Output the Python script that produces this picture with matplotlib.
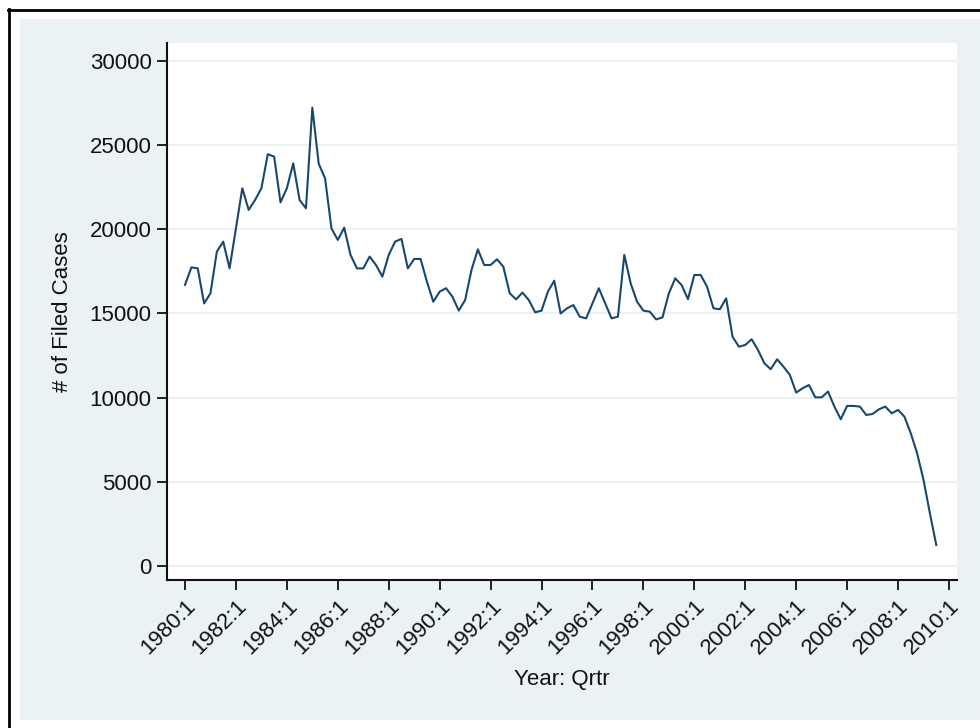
import numpy as np
import matplotlib
matplotlib.use("Agg")
import matplotlib.pyplot as plt
from matplotlib.patches import Rectangle
from matplotlib.lines import Line2D

plt.rcParams['font.family'] = ['Liberation Sans', 'DejaVu Sans']

# Quarterly counts of filed cases, starting 1980:1
start_year = 1980
filed_cases = [
    16700, 17740, 17680, 15600, 16200, 18670, 19270, 17680,   # 1980-1981
    20060, 22440, 21150, 21740, 22440, 24460, 24320, 21600,   # 1982-1983
    22440, 23920, 21740, 21250, 27230, 23900, 23030, 20060,   # 1984-1985
    19370, 20100, 18480, 17680, 17680, 18380, 17880, 17190,   # 1986-1987
    18480, 19270, 19430, 17680, 18240, 18240, 16890, 15700,   # 1988-1989
    16300, 16500, 16000, 15170, 15800, 17590, 18810, 17880,   # 1990-1991
    17880, 18220, 17780, 16200, 15840, 16240, 15800, 15070,   # 1992-1993
    15170, 16300, 16950, 15000, 15310, 15500, 14810, 14710,   # 1994-1995
    15600, 16500, 15600, 14710, 14810, 18480, 16790, 15700,   # 1996-1997
    15170, 15110, 14650, 14770, 16200, 17090, 16690, 15850,   # 1998-1999
    17290, 17290, 16590, 15310, 15250, 15900, 13620, 13030,   # 2000-2001
    13130, 13470, 12830, 12040, 11690, 12280, 11840, 11350,   # 2002-2003
    10300, 10560, 10750, 10020, 10020, 10360, 9470, 8720,     # 2004-2005
    9510, 9510, 9470, 8970, 9030, 9310, 9470, 9070,           # 2006-2007
    9270, 8870, 7880, 6690, 5110, 3130, 1250,                 # 2008-2009
]
tick_years = list(range(1980, 2011, 2))
tick_labels = [f"{y}:1" for y in tick_years]
y_ticks = [0, 5000, 10000, 15000, 20000, 25000, 30000]

t = start_year + np.arange(len(filed_cases)) / 4.0

W, H = 980, 728
fig = plt.figure(figsize=(W / 100, H / 100), dpi=100, facecolor='white')

# graph region background and frame
fig.patches.append(Rectangle((20 / W, (H - 720) / H), 960 / W, 701 / H,
                             transform=fig.transFigure, facecolor='#EAF2F3',
                             edgecolor='none', zorder=-2))
fig.lines.append(Line2D([9 / W, 9 / W], [0, (H - 9) / H], transform=fig.transFigure,
                        color='black', lw=2.0, zorder=-1))
fig.lines.append(Line2D([8 / W, 1], [(H - 10) / H, (H - 10) / H], transform=fig.transFigure,
                        color='black', lw=2.0, zorder=-1))

ax = fig.add_axes([167 / W, (H - 580) / H, (957 - 167) / W, (580 - 43) / H])
ax.set_zorder(2)
ax.set_facecolor('white')
ax.plot(t, filed_cases, color='#1A476F', lw=1.5, zorder=3)

ax.set_xlim(1979.293, 2010.314)
ax.set_ylim(-832, 31069)
ax.set_yticks(y_ticks)
ax.set_yticklabels([str(v) for v in y_ticks])
ax.set_xticks(tick_years)
ax.set_xticklabels(tick_labels, rotation=45, ha='right', rotation_mode='anchor')

ax.grid(axis='y', color='#EAF2F3', lw=1.5, zorder=1)
ax.grid(axis='x', visible=False)
for s in ['top', 'right']:
    ax.spines[s].set_visible(False)
for s in ['left', 'bottom']:
    ax.spines[s].set_linewidth(1.5)
    ax.spines[s].set_color('#111111')

ax.tick_params(axis='both', direction='out', length=7, width=1.3, color='#111111',
               labelsize=16, labelcolor='#111111', pad=4)

ax.set_xlabel('Year: Qrtr', fontsize=16, color='#111111', labelpad=8)
ax.set_ylabel('# of Filed Cases', fontsize=16, color='#111111', labelpad=12)

fig.savefig('out.png', dpi=100, facecolor='white')
